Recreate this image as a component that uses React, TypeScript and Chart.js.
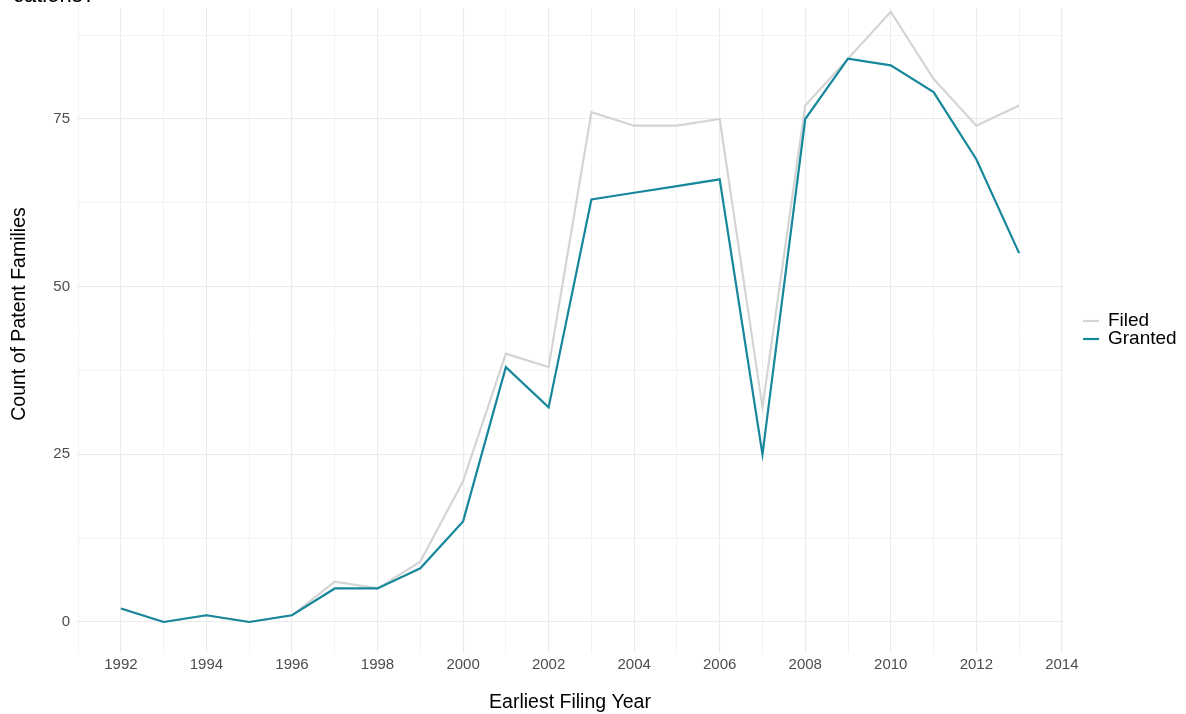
import React, { useEffect, useRef } from "react";
import { Chart, registerables } from "chart.js";

Chart.register(...registerables);

const years = [1992, 1993, 1994, 1995, 1996, 1997, 1998, 1999, 2000, 2001, 2002, 2003, 2004, 2005, 2006, 2007, 2008, 2009, 2010, 2011, 2012, 2013];
const filed = [2, 0, 1, 0, 1, 6, 5, 9, 21, 40, 38, 76, 74, 74, 75, 32, 77, 84, 91, 81, 74, 77];
const granted = [2, 0, 1, 0, 1, 5, 5, 8, 15, 38, 32, 63, 64, 65, 66, 25, 75, 84, 83, 79, 69, 55];
const xTickYears = [1991, 1992, 1993, 1994, 1995, 1996, 1997, 1998, 1999, 2000, 2001, 2002, 2003, 2004, 2005, 2006, 2007, 2008, 2009, 2010, 2011, 2012, 2013, 2014];
const yTickValues = [0, 12.5, 25, 37.5, 50, 62.5, 75, 87.5];
const seriesLabels = ["Filed", "Granted"];
const titleTail = "cations?";
const xTitle = "Earliest Filing Year";
const yTitle = "Count of Patent Families";

const FONT = "'Liberation Sans', Arial, sans-serif";

export default function App() {
  const ref = useRef<HTMLCanvasElement | null>(null);
  useEffect(() => {
    if (!ref.current) return;
    const overlay = {
      id: "overlay",
      afterDraw(chart: any) {
        const ctx = chart.ctx;
        const a = chart.chartArea;
        ctx.save();
        ctx.fillStyle = "#000";
        // cropped title
        ctx.font = `22px ${FONT}`;
        ctx.textAlign = "left";
        ctx.textBaseline = "alphabetic";
        ctx.fillText(titleTail, 13, 1.5);
        // x title
        ctx.font = `19.5px ${FONT}`;
        ctx.textAlign = "center";
        ctx.textBaseline = "middle";
        ctx.fillText(xTitle, (a.left + a.right) / 2, 703);
        // y title
        ctx.save();
        ctx.translate(20, 314);
        ctx.rotate(-Math.PI / 2);
        ctx.fillText(yTitle, 0, 0);
        ctx.restore();
        // legend
        const ds = chart.data.datasets;
        const ys = [321, 339];
        ctx.font = `19px ${FONT}`;
        ctx.textAlign = "left";
        ds.forEach((d: any, i: number) => {
          ctx.strokeStyle = d.borderColor;
          ctx.lineWidth = 2.2;
          ctx.beginPath();
          ctx.moveTo(1083, ys[i]);
          ctx.lineTo(1099, ys[i]);
          ctx.stroke();
          ctx.fillStyle = "#000";
          ctx.fillText(d.label, 1108, ys[i]);
        });
        ctx.restore();
      },
    };
    const chart = new Chart(ref.current, {
      type: "line",
      data: {
        datasets: [
          {
            label: seriesLabels[0],
            data: years.map((y, i) => ({ x: y, y: filed[i] })),
            borderColor: "#d4d4d4",
            borderWidth: 2.2,
            pointRadius: 0,
            tension: 0,
            fill: false,
            order: 2,
          },
          {
            label: seriesLabels[1],
            data: years.map((y, i) => ({ x: y, y: granted[i] })),
            borderColor: "#17879b",
            borderWidth: 2.2,
            pointRadius: 0,
            tension: 0,
            fill: false,
            order: 1,
          },
        ],
      },
      options: {
        animation: false,
        responsive: false,
        maintainAspectRatio: false,
        layout: { padding: { left: 0, right: 122, top: 8, bottom: 0 } },
        plugins: { legend: { display: false }, tooltip: { enabled: false }, title: { display: false } },
        scales: {
          x: {
            type: "linear",
            min: 1990.95,
            max: 2014.05,
            afterBuildTicks: (s: any) => {
              s.ticks = xTickYears.map((v) => ({ value: v }));
            },
            afterFit: (s: any) => {
              s.height = 61.5;
              s.paddingLeft = 0;
              s.paddingRight = 0;
              s.paddingTop = 0;
              s.paddingBottom = 0;
            },
            ticks: {
              autoSkip: false,
              maxRotation: 0,
              padding: 3,
              color: "#4d4d4d",
              font: { family: FONT, size: 15 },
              callback: (v: any) => (Number(v) % 2 === 0 ? String(v) : ""),
            },
            grid: {
              drawTicks: false,
              color: (c: any) => (c.tick && c.tick.value % 2 === 0 ? "#ebebeb" : "#f3f3f3"),
              lineWidth: (c: any) => (c.tick && c.tick.value % 2 === 0 ? 1.1 : 1),
            },
            border: { display: false },
          },
          y: {
            type: "linear",
            min: -4.55,
            max: 91.55,
            afterBuildTicks: (s: any) => {
              s.ticks = yTickValues.map((v) => ({ value: v }));
            },
            afterFit: (s: any) => {
              s.width = 76;
              s.paddingLeft = 0;
              s.paddingRight = 0;
              s.paddingTop = 0;
              s.paddingBottom = 0;
            },
            ticks: {
              autoSkip: false,
              padding: 6,
              color: "#4d4d4d",
              font: { family: FONT, size: 15 },
              callback: (v: any) => (Number(v) % 25 === 0 ? String(v) : ""),
            },
            grid: {
              drawTicks: false,
              color: (c: any) => (c.tick && c.tick.value % 25 === 0 ? "#ebebeb" : "#f3f3f3"),
              lineWidth: (c: any) => (c.tick && c.tick.value % 25 === 0 ? 1.1 : 1),
            },
            border: { display: false },
          },
        },
      },
      plugins: [overlay],
    } as any);
    return () => chart.destroy();
  }, []);
  return (
    <div style={{ position: "absolute", left: 0, top: 0, width: 1186, height: 714, background: "#fff" }}>
      <canvas ref={ref} width={1186} height={714} style={{ width: 1186, height: 714, display: "block" }} />
    </div>
  );
}
